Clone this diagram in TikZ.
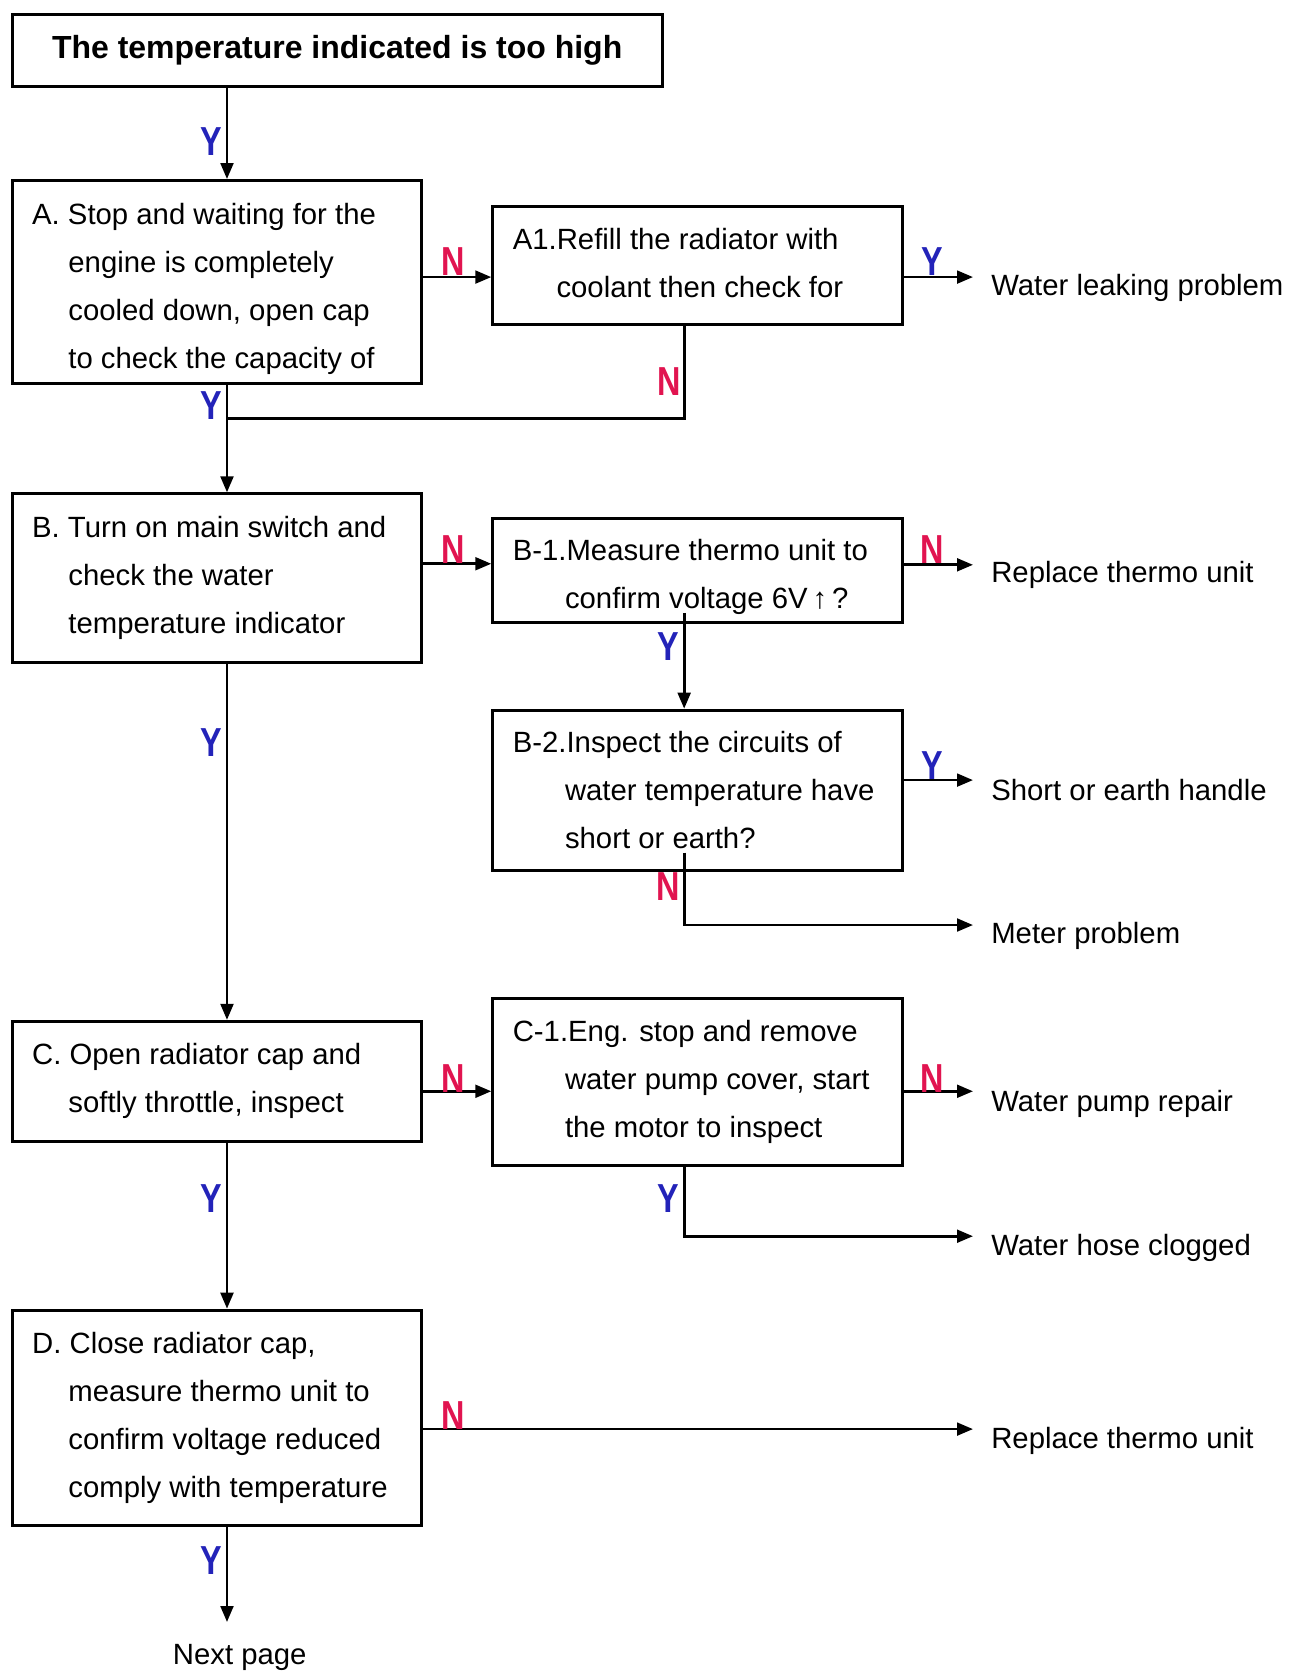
\documentclass[tikz,border=0pt]{standalone}
\usepackage{fontspec}
\setmainfont{Liberation Sans}
\usetikzlibrary{arrows.meta,calc}
\definecolor{ycol}{RGB}{35,35,185}
\definecolor{ncol}{RGB}{225,20,80}
\begin{document}
\begin{tikzpicture}[x=1pt,y=-1pt,
 box/.style={draw,line width=2.8pt,inner sep=0pt,anchor=north west},
 txt/.style={anchor=base west,inner sep=0pt,font=\fontsize{27.5}{45}\selectfont},
 outc/.style={anchor=base west,inner xsep=17pt,inner ysep=0pt,font=\fontsize{27.5}{45}\selectfont},
 arr/.style={line width=2.5pt,-{Triangle[length=15pt,width=12pt]}},
 ln/.style={line width=2.5pt},
 ylab/.style={text=ycol,font=\bfseries\fontsize{38}{38}\selectfont,inner sep=0pt,xscale=0.8},
 nlab/.style={text=ncol,font=\bfseries\fontsize{38}{38}\selectfont,inner sep=0pt,xscale=0.8}]
\useasboundingbox (0,0) rectangle (1213,1568);
\coordinate (mainx) at (213,0);
\coordinate (colx) at (642,0);
% boxes
\node[box,minimum width=610pt,minimum height=68pt,font=\bfseries\fontsize{30}{36}\selectfont] (T) at (10,12) {The temperature indicated is too high};
\node[box,minimum width=384pt,minimum height=190pt] (A) at (10,168) {};
\node[box,minimum width=384pt,minimum height=111pt] (A1) at (461,192) {};
\node[box,minimum width=384pt,minimum height=158pt] (B) at (10,462) {};
\node[box,minimum width=384pt,minimum height=98pt] (B1) at (461,485) {};
\node[box,minimum width=384pt,minimum height=150pt] (B2) at (461,665) {};
\node[box,minimum width=384pt,minimum height=113pt] (C) at (10,957) {};
\node[box,minimum width=384pt,minimum height=156pt] (C1) at (461,936) {};
\node[box,minimum width=384pt,minimum height=202pt] (D) at (10,1228) {};
% box texts
\node[txt] (At) at (30,211) {\vtop{\hbox{A. Stop and waiting for the}\hbox{\hspace*{34pt}engine is completely}\hbox{\hspace*{34pt}cooled down, open cap}\hbox{\hspace*{34pt}to check the capacity of}}};
\node[txt] (A1t) at (481,234) {\vtop{\hbox{A1.Refill the radiator with}\hbox{\hspace*{41pt}coolant then check for}}};
\node[txt] (Bt) at (30,504) {\vtop{\hbox{B. Turn on main switch and}\hbox{\hspace*{34pt}check the water}\hbox{\hspace*{34pt}temperature indicator}}};
\node[txt] (B1t) at (481,526) {\vtop{\hbox{B-1.Measure thermo unit to}\hbox{\hspace*{49pt}confirm voltage 6V\,↑\,?}}};
\node[txt] (B2t) at (481,706) {\vtop{\hbox{B-2.Inspect the circuits of}\hbox{\hspace*{49pt}water temperature have}\hbox{\hspace*{49pt}short or earth?}}};
\node[txt] (Ct) at (30,999) {\vtop{\hbox{C. Open radiator cap and}\hbox{\hspace*{34pt}softly throttle, inspect}}};
\node[txt] (C1t) at (481,977) {\vtop{\hbox{C-1.Eng. stop and remove}\hbox{\hspace*{49pt}water pump cover, start}\hbox{\hspace*{49pt}the motor to inspect}}};
\node[txt] (Dt) at (30,1270) {\vtop{\hbox{D. Close radiator cap,}\hbox{\hspace*{34pt}measure thermo unit to}\hbox{\hspace*{34pt}confirm voltage reduced}\hbox{\hspace*{34pt}comply with temperature}}};
% outcomes
\node[outc] (WL) at (913,277) {Water leaking problem};
\node[outc] (RT1) at (913,547) {Replace thermo unit};
\node[outc] (SE) at (913,751) {Short or earth handle};
\node[outc] (MP) at (913,885) {Meter problem};
\node[outc] (WP) at (913,1043) {Water pump repair};
\node[outc] (WH) at (913,1178) {Water hose clogged};
\node[outc] (RT2) at (913,1359) {Replace thermo unit};
\node[anchor=base,inner sep=0pt,font=\fontsize{27.5}{45}\selectfont] (NP) at (225,1562) {Next page};
\coordinate (npend) at (213,1522);
\coordinate (b1out) at (642,575);
\coordinate (b2out) at (642,800);
% connectors
\draw[arr] (T.south -| mainx) -- (A.north -| mainx);
\draw[arr] (A.east |- 0,260) -- (A1.west |- 0,260);
\draw[arr] (A1.east |- 0,260) -- (WL.west |- 0,260);
\draw[ln] (A1.south -| colx) |- (mainx |- 0,393);
\draw[arr] (A.south -| mainx) -- (B.north -| mainx);
\draw[arr] (B.east |- 0,529) -- (B1.west |- 0,529);
\draw[arr] (B1.east |- 0,530) -- (RT1.west |- 0,530);
\draw[arr] (b1out) -- (B2.north -| b1out);
\draw[arr] (B2.east |- 0,732) -- (SE.west |- 0,732);
\draw[arr] (b2out) |- (MP.west |- 0,868);
\draw[arr] (B.south -| mainx) -- (C.north -| mainx);
\draw[arr] (C.east |- 0,1024) -- (C1.west |- 0,1024);
\draw[arr] (C1.east |- 0,1024) -- (WP.west |- 0,1024);
\draw[arr] (C1.south -| colx) |- (WH.west |- 0,1160);
\draw[arr] (C.south -| mainx) -- (D.north -| mainx);
\draw[arr] (D.east |- 0,1341) -- (RT2.west |- 0,1341);
\draw[arr] (D.south -| mainx) -- (npend);
% labels
\node[ylab] (y1) at (198,133) {Y};
\node[ylab] (y2) at (198,381) {Y};
\node[ylab] (y3) at (198,697) {Y};
\node[ylab] (y4) at (198,1125) {Y};
\node[ylab] (y5) at (198,1464) {Y};
\node[nlab] (n1) at (425,245) {N};
\node[nlab] (n2) at (425,516) {N};
\node[nlab] (n3) at (425,1012) {N};
\node[nlab] (n4) at (425,1328) {N};
\node[ylab] (y6) at (875,245) {Y};
\node[nlab] (n5) at (875,516) {N};
\node[ylab] (y7) at (875,718) {Y};
\node[nlab] (n6) at (875,1012) {N};
\node[nlab] (n7) at (628,358) {N};
\node[ylab] (y8) at (627,607) {Y};
\node[nlab] (n8) at (627,832) {N};
\node[ylab] (y9) at (627,1125) {Y};
\end{tikzpicture}
\end{document}
